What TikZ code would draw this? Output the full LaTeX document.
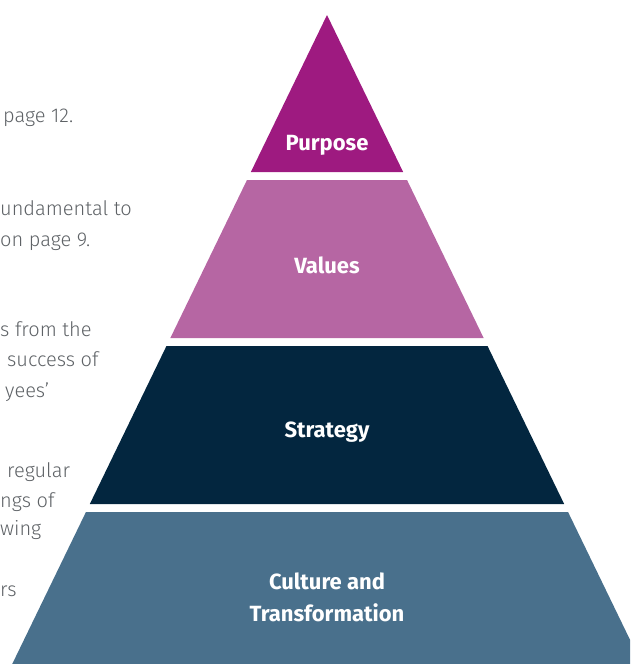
\documentclass[tikz,border=0pt]{standalone}
\usepackage{fontspec}
\setmainfont{Fira Sans}
\newfontfamily\thinfont{Fira Sans Light}
\usetikzlibrary{positioning}
\definecolor{purpose}{HTML}{9E1A80}
\definecolor{values}{HTML}{B666A3}
\definecolor{strategy}{HTML}{03263F}
\definecolor{culture}{HTML}{49708C}
\definecolor{body}{HTML}{5E6266}
\tikzset{
  tierlab/.style={text=white, font=\fontsize{22}{32}\selectfont\bfseries, align=center},
  side/.style={text=body, font=\thinfont\fontsize{20}{30}\selectfont, anchor=base west, inner sep=0pt},
}

\begin{document}
\begin{tikzpicture}[x=1pt, y=-1pt]
\useasboundingbox (0,0) rectangle (630,664);
\clip (0,0) rectangle (630,664);
% four tiers, half width grows 0.485 per unit below the apex (327,15)
\foreach \c/\t/\b in {purpose/15/172, values/180/338, strategy/346/504, culture/512/700}{
  \fill[\c] ({327-0.485*(\t-15)},\t) -- ({327+0.485*(\t-15)},\t)
    -- ({327+0.485*(\b-15)},\b) -- ({327-0.485*(\b-15)},\b) -- cycle;
}
\node[tierlab] (purposelab) at (327,145) {Purpose};
\node[tierlab] (valueslab) at (327,265) {Values};
\node[tierlab] (strategylab) at (327,432) {Strategy};
\node[tierlab] (culturelab) at (327,597) {Culture and\\Transformation};

% text column, running off the left edge
\node[side] (t1) at (3,122) {page 12.};
\node[side] (t2) at (0,215) {undamental to};
\node[side] (t3) at (0,246) {on page 9.};
\node[side] (t4) at (0,336) {s from the};
\node[side] (t5) at (7,366) {success of};
\node[side] (t6) at (5,397) {yees’};
\node[side] (t7) at (7,477) {regular};
\node[side] (t8) at (0,507) {ngs of};
\node[side] (t9) at (0,535) {wing};
\node[side] (t10) at (0,596) {rs};
\end{tikzpicture}
\end{document}
